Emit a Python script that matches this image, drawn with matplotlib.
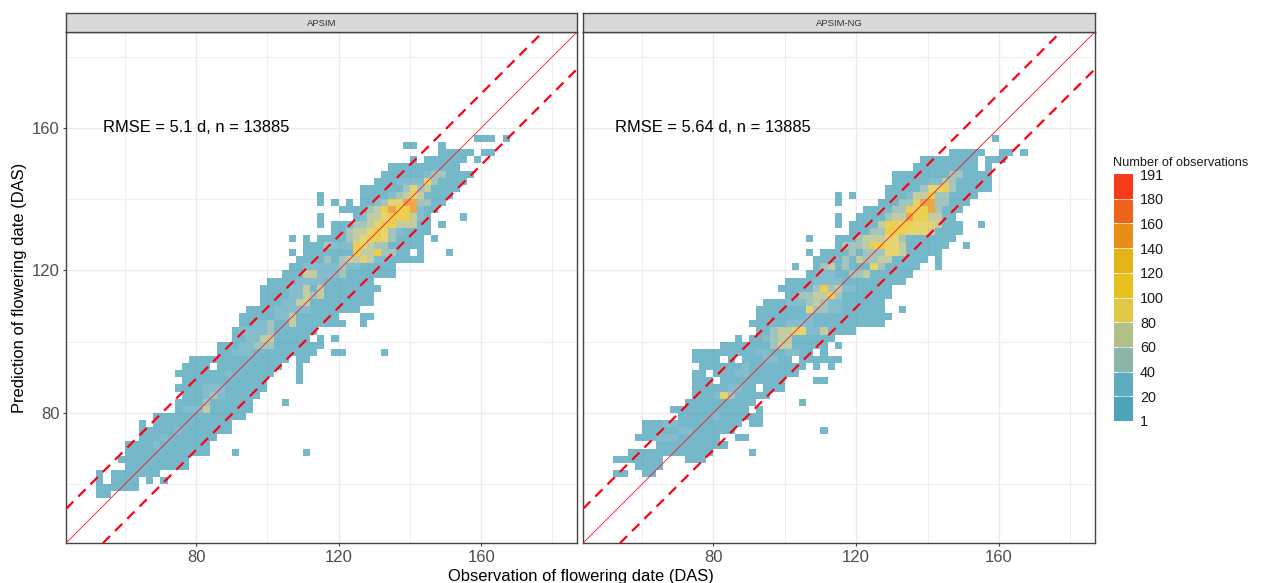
import matplotlib
matplotlib.use('Agg')
import matplotlib.pyplot as plt
import numpy as np
from matplotlib.colors import BoundaryNorm, ListedColormap
from matplotlib.cm import ScalarMappable

plt.rcParams['font.family'] = ['Liberation Sans', 'DejaVu Sans']

panels = ['APSIM', 'APSIM-NG']
notes = ['RMSE = 5.1 d, n = 13885', 'RMSE = 5.64 d, n = 13885']
ticks = [80, 120, 160]
minor = [60, 100, 140, 180]
bounds = [1, 20, 40, 60, 80, 100, 120, 140, 160, 180, 191]
palette = ['#3B9AB2', '#4EA2BA', '#7DAD9E', '#A9B97B', '#DCC330',
           '#E5BB05', '#E2AA00', '#E78100', '#EC5300', '#F42500']

# bins are 2 DAS wide: row (lower y edge) -> runs of occupied x bins
apsim_cover = {
    56: [(52, 56)], 58: [(52, 64)], 60: [(52, 54), (56, 64), (66, 68), (70, 72)],
    62: [(52, 54), (56, 70)], 64: [(60, 78)], 66: [(58, 78)],
    68: [(60, 84), (90, 92), (110, 112)], 70: [(60, 84)], 72: [(64, 86)],
    74: [(64, 90)], 76: [(64, 66), (68, 90)], 78: [(68, 94)], 80: [(74, 96)],
    82: [(74, 96), (104, 106)], 84: [(76, 98)], 86: [(74, 100)],
    88: [(76, 100), (108, 110)], 90: [(74, 102), (108, 110)],
    92: [(76, 84), (86, 104), (108, 110)], 94: [(78, 106), (108, 112)],
    96: [(86, 114), (118, 122), (132, 134)], 98: [(86, 116)],
    100: [(90, 112), (114, 116), (118, 120)], 102: [(90, 114)],
    104: [(92, 122), (126, 128)], 106: [(92, 120), (126, 130)], 108: [(94, 126)],
    110: [(98, 130)], 112: [(98, 130)], 114: [(98, 132)], 116: [(100, 130)],
    118: [(104, 136)], 120: [(106, 136)], 122: [(108, 144)],
    124: [(106, 108), (110, 140), (142, 144), (150, 152)], 126: [(110, 144)],
    128: [(106, 108), (110, 112), (114, 144), (146, 148)], 130: [(118, 146)],
    132: [(114, 116), (118, 146), (148, 150)],
    134: [(114, 116), (124, 146), (154, 156)], 136: [(120, 148)],
    138: [(114, 116), (118, 120), (122, 124), (126, 150)],
    140: [(114, 116), (126, 152)], 142: [(126, 154)], 144: [(130, 156)],
    146: [(132, 158)], 148: [(134, 154)],
    150: [(140, 142), (144, 156), (158, 160)], 152: [(148, 158), (160, 164)],
    154: [(138, 142), (148, 150)], 156: [(158, 164), (166, 168)],
}
ng_cover = {
    62: [(52, 56), (60, 64)], 64: [(58, 66)], 66: [(52, 66), (72, 78)],
    68: [(56, 80), (90, 92)], 70: [(64, 84)], 72: [(58, 82), (86, 90)],
    74: [(60, 86), (110, 112)], 76: [(60, 88), (90, 94)], 78: [(70, 94)],
    80: [(68, 90), (92, 94)], 82: [(72, 92), (104, 106)], 84: [(74, 96)],
    86: [(74, 92), (94, 100)], 88: [(74, 80), (82, 100), (108, 112)],
    90: [(74, 78), (80, 104)], 92: [(76, 106), (108, 110), (112, 114)],
    94: [(74, 82), (84, 86), (88, 102), (104, 116)],
    96: [(74, 108), (110, 112)], 98: [(82, 112), (114, 116)],
    100: [(86, 88), (90, 114)], 102: [(92, 120)], 104: [(90, 128)],
    106: [(92, 130)], 108: [(92, 128), (132, 134)], 110: [(94, 128)],
    112: [(100, 130)], 114: [(98, 130)], 116: [(100, 134)], 118: [(106, 136)],
    120: [(102, 104), (108, 138), (142, 144)], 122: [(108, 140), (142, 144)],
    124: [(106, 108), (110, 144)], 126: [(114, 146), (150, 152)],
    128: [(106, 108), (114, 148)], 130: [(118, 150)],
    132: [(114, 116), (118, 150), (154, 156)], 134: [(114, 116), (120, 148)],
    136: [(122, 150)], 138: [(114, 116), (126, 152)],
    140: [(114, 116), (118, 120), (128, 154)], 142: [(128, 158)],
    144: [(130, 158)], 146: [(130, 158)], 148: [(136, 154), (156, 158)],
    150: [(138, 154), (156, 162)], 152: [(146, 156), (160, 164), (166, 168)],
    156: [(158, 160)],
}
# denser cells: (y, x from, x to, count)
apsim_dense = [
    (70, 68, 70, 30), (72, 70, 72, 30), (74, 74, 76, 30), (80, 76, 82, 30),
    (80, 82, 84, 70), (82, 82, 84, 50), (84, 82, 88, 30), (84, 84, 86, 50),
    (86, 82, 88, 30), (90, 88, 90, 30), (96, 90, 96, 30), (98, 92, 96, 30),
    (98, 96, 100, 50), (100, 98, 102, 70), (100, 94, 98, 30), (98, 100, 102, 50),
    (102, 92, 100, 30), (104, 96, 102, 30), (104, 100, 102, 50), (102, 100, 102, 50),
    (106, 106, 108, 70), (104, 106, 108, 70), (106, 102, 106, 30), (108, 102, 112, 30),
    (110, 108, 112, 70), (110, 104, 108, 30), (112, 110, 112, 70), (112, 114, 116, 70),
    (112, 106, 110, 30), (112, 112, 114, 50), (114, 110, 112, 70), (114, 114, 116, 70),
    (114, 106, 110, 30), (116, 108, 116, 30), (118, 110, 114, 70), (118, 114, 120, 30),
    (118, 120, 122, 50), (120, 120, 122, 50), (120, 110, 120, 30), (120, 122, 126, 30),
    (122, 116, 118, 50), (122, 120, 122, 50), (122, 122, 126, 70), (122, 126, 128, 90),
    (122, 128, 130, 70), (122, 130, 134, 30), (124, 124, 126, 110), (124, 126, 130, 70),
    (124, 130, 132, 110), (124, 132, 136, 50), (126, 116, 118, 50), (126, 118, 124, 30),
    (126, 124, 126, 110), (126, 126, 128, 90), (126, 128, 130, 70), (126, 130, 134, 50),
    (128, 122, 124, 50), (128, 124, 126, 70), (128, 126, 128, 90), (128, 128, 132, 110),
    (128, 132, 134, 90), (128, 134, 136, 50), (130, 122, 124, 50), (130, 124, 128, 70),
    (130, 128, 130, 90), (130, 130, 132, 110), (130, 132, 134, 90), (130, 134, 136, 50),
    (130, 136, 138, 30), (132, 124, 128, 50), (132, 128, 130, 70), (132, 130, 132, 90),
    (132, 132, 136, 110), (132, 136, 142, 70), (134, 126, 128, 30), (134, 128, 132, 70),
    (134, 132, 134, 90), (134, 134, 140, 110), (134, 140, 142, 70), (134, 142, 144, 30),
    (136, 128, 130, 50), (136, 130, 132, 70), (136, 132, 134, 110), (136, 134, 136, 150),
    (136, 136, 140, 110), (136, 140, 142, 150), (136, 142, 144, 30), (138, 130, 132, 30),
    (138, 132, 134, 50), (138, 134, 138, 90), (138, 138, 142, 150), (138, 142, 146, 50),
    (140, 134, 136, 30), (140, 136, 138, 50), (140, 138, 140, 70), (140, 140, 142, 90),
    (140, 142, 144, 70), (142, 138, 140, 50), (142, 140, 142, 90), (142, 142, 144, 50),
    (142, 144, 146, 70), (144, 136, 144, 30), (144, 144, 146, 90), (144, 146, 148, 50),
    (146, 144, 148, 30), (146, 146, 150, 50),
]
ng_dense = [
    (72, 64, 70, 30), (74, 70, 74, 30), (76, 66, 70, 30), (78, 80, 82, 30),
    (84, 80, 82, 30), (84, 82, 84, 90), (84, 84, 86, 50), (86, 84, 88, 30),
    (90, 86, 90, 30), (92, 88, 90, 30), (94, 94, 98, 30), (96, 92, 96, 30),
    (96, 100, 104, 30), (98, 96, 98, 50), (98, 98, 102, 70), (100, 94, 96, 30),
    (100, 96, 98, 50), (100, 98, 102, 70), (102, 96, 98, 50), (102, 98, 100, 70),
    (102, 100, 102, 70), (102, 102, 106, 90), (102, 106, 110, 30), (102, 110, 112, 70),
    (104, 100, 108, 30), (106, 106, 108, 30), (108, 106, 108, 90), (108, 108, 112, 50),
    (108, 112, 116, 30), (110, 100, 106, 30), (110, 106, 108, 50), (110, 108, 110, 70),
    (110, 110, 112, 50), (110, 112, 116, 30), (112, 104, 108, 50), (112, 108, 112, 70),
    (112, 112, 114, 110), (112, 114, 116, 50), (114, 108, 110, 50), (114, 110, 112, 110),
    (114, 112, 114, 50), (114, 114, 116, 70), (114, 116, 120, 30), (116, 108, 116, 30),
    (118, 110, 114, 30), (118, 118, 122, 50), (118, 122, 124, 70), (120, 110, 112, 50),
    (120, 112, 114, 70), (120, 116, 118, 50), (120, 124, 126, 90), (120, 126, 128, 50),
    (122, 116, 118, 50), (122, 120, 122, 70), (122, 122, 126, 50), (122, 126, 130, 70),
    (124, 118, 120, 50), (124, 122, 128, 50), (124, 128, 132, 90), (124, 132, 134, 70),
    (126, 116, 118, 50), (126, 118, 122, 50), (126, 122, 124, 70), (126, 124, 128, 110),
    (126, 128, 132, 90), (126, 132, 134, 70), (128, 120, 122, 50), (128, 122, 128, 70),
    (128, 128, 132, 90), (128, 132, 134, 50), (130, 124, 128, 50), (130, 128, 134, 110),
    (130, 134, 140, 90), (130, 140, 142, 70), (132, 126, 128, 70), (132, 128, 136, 110),
    (132, 136, 142, 90), (132, 142, 144, 70), (134, 128, 130, 50), (134, 130, 134, 70),
    (134, 134, 136, 150), (134, 136, 140, 110), (134, 140, 144, 70), (136, 130, 134, 50),
    (136, 134, 140, 110), (136, 140, 142, 150), (136, 142, 144, 50), (138, 132, 136, 50),
    (138, 136, 138, 90), (138, 138, 142, 140), (138, 142, 146, 50), (140, 134, 136, 30),
    (140, 136, 140, 70), (140, 140, 142, 110), (140, 142, 146, 50), (142, 138, 140, 50),
    (142, 140, 144, 90), (142, 144, 146, 110), (142, 146, 148, 50), (144, 140, 144, 30),
    (144, 144, 146, 70), (144, 146, 148, 50), (146, 146, 150, 50),
]

W, H = 1261, 583


def box(x0, x1, top, bottom):
    return [x0 / W, 1 - bottom / H, (x1 - x0) / W, (bottom - top) / H]


def make_grid(cover, dense, edges):
    grid = np.full((len(edges) - 1, len(edges) - 1), np.nan)
    for y, runs in cover.items():
        for x0, x1 in runs:
            grid[(y - 40) // 2, (x0 - 40) // 2:(x1 - 40) // 2] = 10
    for y, x0, x1, n in dense:
        grid[(y - 40) // 2, (x0 - 40) // 2:(x1 - 40) // 2] = n
    return grid


fig = plt.figure(figsize=(W / 100, H / 100), dpi=100)
cmap = ListedColormap(palette)
norm = BoundaryNorm(bounds, 10)
edges = np.arange(40, 192, 2)
lims = (43.5, 186.9)

for i, (cover, dense) in enumerate([(apsim_cover, apsim_dense), (ng_cover, ng_dense)]):
    left, right = [(66, 577), (583, 1095)][i]
    ax = fig.add_axes(box(left, right, 32, 543))
    ax.set_axisbelow(True)
    ax.pcolormesh(edges, edges, make_grid(cover, dense, edges), cmap=cmap, norm=norm,
                  alpha=0.7, edgecolors='none', antialiased=False, zorder=2)
    ax.set_xlim(lims)
    ax.set_ylim(lims)
    ax.set_xticks(ticks)
    ax.set_xticks(minor, minor=True)
    ax.set_yticks(ticks)
    ax.set_yticks(minor, minor=True)
    ax.grid(True, which='major', color='#EBEBEB', lw=1)
    ax.grid(True, which='minor', color='#EFEFEF', lw=0.8)
    ax.tick_params(which='minor', length=0)
    ax.tick_params(which='major', length=2.2, width=0.8, color='#444444', pad=2.5,
                   labelsize=12, labelcolor='#4D4D4D')
    if i == 1:
        ax.tick_params(axis='y', which='major', left=False, labelleft=False)
    # 1:1 line and +/- 10 d limits
    ax.plot(lims, lims, color='#FF1020', lw=0.6, zorder=3)
    for off in [-10.4, 9.6]:
        ax.plot(lims, [lims[0] + off, lims[1] + off], color='#FF0010', lw=1.6,
                dashes=(4.6, 3.2), zorder=3)
    ax.text(80, 160, notes[i], ha='center', va='center', fontsize=11.9, color='black', zorder=4)
    for s in ax.spines.values():
        s.set_color('#444444')
        s.set_linewidth(1)

    strip = fig.add_axes(box(left, right, 13, 32))
    strip.set_facecolor('#D9D9D9')
    strip.set_xticks([])
    strip.set_yticks([])
    for s in strip.spines.values():
        s.set_color('#444444')
        s.set_linewidth(1)
    strip.text(0.5, 0.47, panels[i], transform=strip.transAxes, ha='center', va='center',
               fontsize=6.8, color='#333333')

fig.text(580.5 / W, 1 - 576 / H, 'Observation of flowering date (DAS)', ha='center', va='center',
         fontsize=11.9, color='black')
fig.text(19.5 / W, 1 - 288 / H, 'Prediction of flowering date (DAS)', ha='center', va='center',
         rotation=90, fontsize=11.9, color='black')

# legend
cax = fig.add_axes(box(1114, 1133, 174, 421))
sm = ScalarMappable(norm=norm, cmap=cmap)
cb = fig.colorbar(sm, cax=cax, spacing='uniform', ticks=bounds, drawedges=True, alpha=0.9)
cb.ax.set_yticklabels([str(b) for b in bounds])
cb.outline.set_visible(False)
cb.dividers.set_color('white')
cb.dividers.set_linewidth(0.4)
cb.ax.tick_params(direction='in', length=2.5, width=0.8, color='white', left=True, right=True,
                  pad=5, labelsize=10.4, labelcolor='#1A1A1A')
end_ticks = cb.ax.yaxis.get_major_ticks()
for t in [end_ticks[0], end_ticks[-1]]:
    t.tick1line.set_visible(False)
    t.tick2line.set_visible(False)
fig.text(1113 / W, 1 - 162.5 / H, 'Number of observations', ha='left', va='center',
         fontsize=9.2, color='#1A1A1A')

fig.savefig('out.png', dpi=100)
